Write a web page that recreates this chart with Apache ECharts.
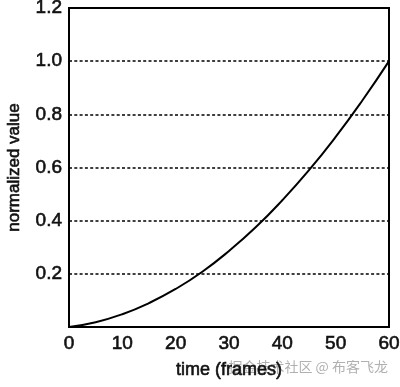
<!DOCTYPE html>
<html>
<head>
<meta charset="utf-8">
<script src="https://cdn.jsdelivr.net/npm/echarts@6/dist/echarts.min.js"></script>
<style>
html,body{margin:0;padding:0;background:#fff;}
#chart{width:400px;height:387px;}
</style>
</head>
<body>
<div id="chart"></div>
<script>
// Data
var frames = [0, 5, 10, 15, 20, 25, 30, 35, 40, 45, 50, 55, 60];
var values = [0, 0.018, 0.048, 0.090, 0.143, 0.208, 0.286, 0.375, 0.477, 0.590, 0.715, 0.852, 1.0];
var xTicks = [0, 10, 20, 30, 40, 50, 60];
var yTicks = [0.2, 0.4, 0.6, 0.8, 1.0, 1.2];
var xName = 'time (frames)';
var yName = 'normalized value';
var watermark = '掘金技术社区 @ 布客飞龙';

var FONT = "'Liberation Sans', Arial, sans-serif";
var chart = echarts.init(document.getElementById('chart'), null, {renderer: 'canvas'});
var points = frames.map(function (f, i) { return [f, values[i]]; });
var thick = {textBorderColor: '#111', textBorderWidth: 0.6};

chart.setOption({
  animation: false,
  backgroundColor: '#fff',
  grid: {left: 69, right: 11, top: 8, bottom: 60, show: true, borderColor: '#000', borderWidth: 2,
         backgroundColor: 'transparent', containLabel: false, outerBoundsMode: 'none'},
  xAxis: {
    type: 'value', min: xTicks[0], max: xTicks[xTicks.length - 1], interval: 10,
    name: xName, nameLocation: 'middle', nameGap: 34,
    nameTextStyle: Object.assign({fontFamily: FONT, fontSize: 18, color: '#111'}, thick),
    axisLine: {show: true, lineStyle: {color: '#000', width: 2}},
    axisTick: {show: false},
    splitLine: {show: false},
    axisLabel: Object.assign({fontFamily: FONT, fontSize: 19, color: '#111', margin: 7}, thick)
  },
  yAxis: {
    type: 'value', min: 0, max: yTicks[yTicks.length - 1], interval: 0.2,
    name: yName, nameLocation: 'middle', nameGap: 46,
    nameTextStyle: Object.assign({fontFamily: FONT, fontSize: 17, color: '#111'}, thick),
    axisLine: {show: true, lineStyle: {color: '#000', width: 2}},
    axisTick: {show: false},
    splitLine: {show: true, lineStyle: {color: '#000', width: 1.6, type: [3, 2.3]}},
    axisLabel: Object.assign({
      fontFamily: FONT, fontSize: 19, color: '#111', margin: 7,
      formatter: function (v) { return v === 0 ? '' : v.toFixed(1); }
    }, thick)
  },
  series: [{
    type: 'line', data: points, smooth: true, symbol: 'none',
    lineStyle: {color: '#000', width: 2}
  }],
  graphic: [{
    type: 'text', right: 12, top: 360,
    style: {text: watermark, fontFamily: "'Noto Sans CJK SC', sans-serif", fontSize: 14, fill: 'rgba(150,150,150,0.75)'}
  }]
});
</script>
</body>
</html>
